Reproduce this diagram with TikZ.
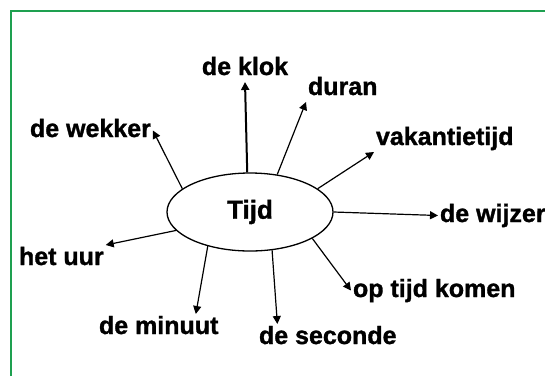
\documentclass[tikz,border=0pt]{standalone}
\usepackage{fontspec}
\setmainfont{Liberation Sans}[BoldFeatures={FakeBold=1.2}]
\usetikzlibrary{shapes, arrows.meta, positioning, calc}
\definecolor{framegreen}{RGB}{30, 160, 80}

\begin{document}
\begin{tikzpicture}[x=1pt, y=-1pt,
  hub/.style={draw, ellipse, line width=1.3pt, minimum width=166pt, minimum height=78pt,
    inner sep=0pt, font=\fontsize{26}{30}\selectfont\bfseries},
  word/.style={inner sep=0pt, outer sep=2pt, text height=18pt, text depth=5pt,
    font=\fontsize{25}{30}\selectfont\bfseries},
  spoke/.style={line width=1.2pt, -{Triangle[length=8pt, width=8pt]}}]
  \useasboundingbox (0,0) rectangle (545,376);
  % frame
  \draw[framegreen, line width=1.2pt] (11,376) -- (11,11) -- (545,11);
  % centre
  \node[hub] (tijd) at (250,212) {Tijd};
  % words round it
  \node[word, anchor=base] (klok) at (245,75) {de klok};
  \node[word, anchor=base west] (duren) at (306,95) {duran};
  \node[word, anchor=base west] (vakantie) at (374,145) {vakantietijd};
  \node[word, anchor=base west] (wijzer) at (438,222) {de wijzer};
  \node[word, anchor=base west] (optijd) at (351,297) {op tijd komen};
  \node[word, anchor=base west] (seconde) at (257,344) {de seconde};
  \node[word, anchor=base west] (minuut) at (97,334) {de minuut};
  \node[word, anchor=base west] (uur) at (17,265) {het uur};
  \node[word, anchor=base west] (wekker) at (28,137) {de wekker};
  % arrows
  \draw[spoke, line width=2pt] (tijd.94) -- (klok.south);
  \draw[spoke] (tijd.54) -- (duren.south west);
  \draw[spoke] (tijd.19) -- (vakantie.south west);
  \draw[spoke] (tijd.0) -- (wijzer.west);
  \draw[spoke] (tijd.-23) -- (optijd.west);
  \draw[spoke] (tijd.-60) -- (seconde.165);
  \draw[spoke] (tijd.219) -- (minuut.20);
  \draw[spoke] (tijd.194) -- (uur.north east);
  \draw[spoke] (tijd.161) -- (wekker.east);
\end{tikzpicture}
\end{document}
